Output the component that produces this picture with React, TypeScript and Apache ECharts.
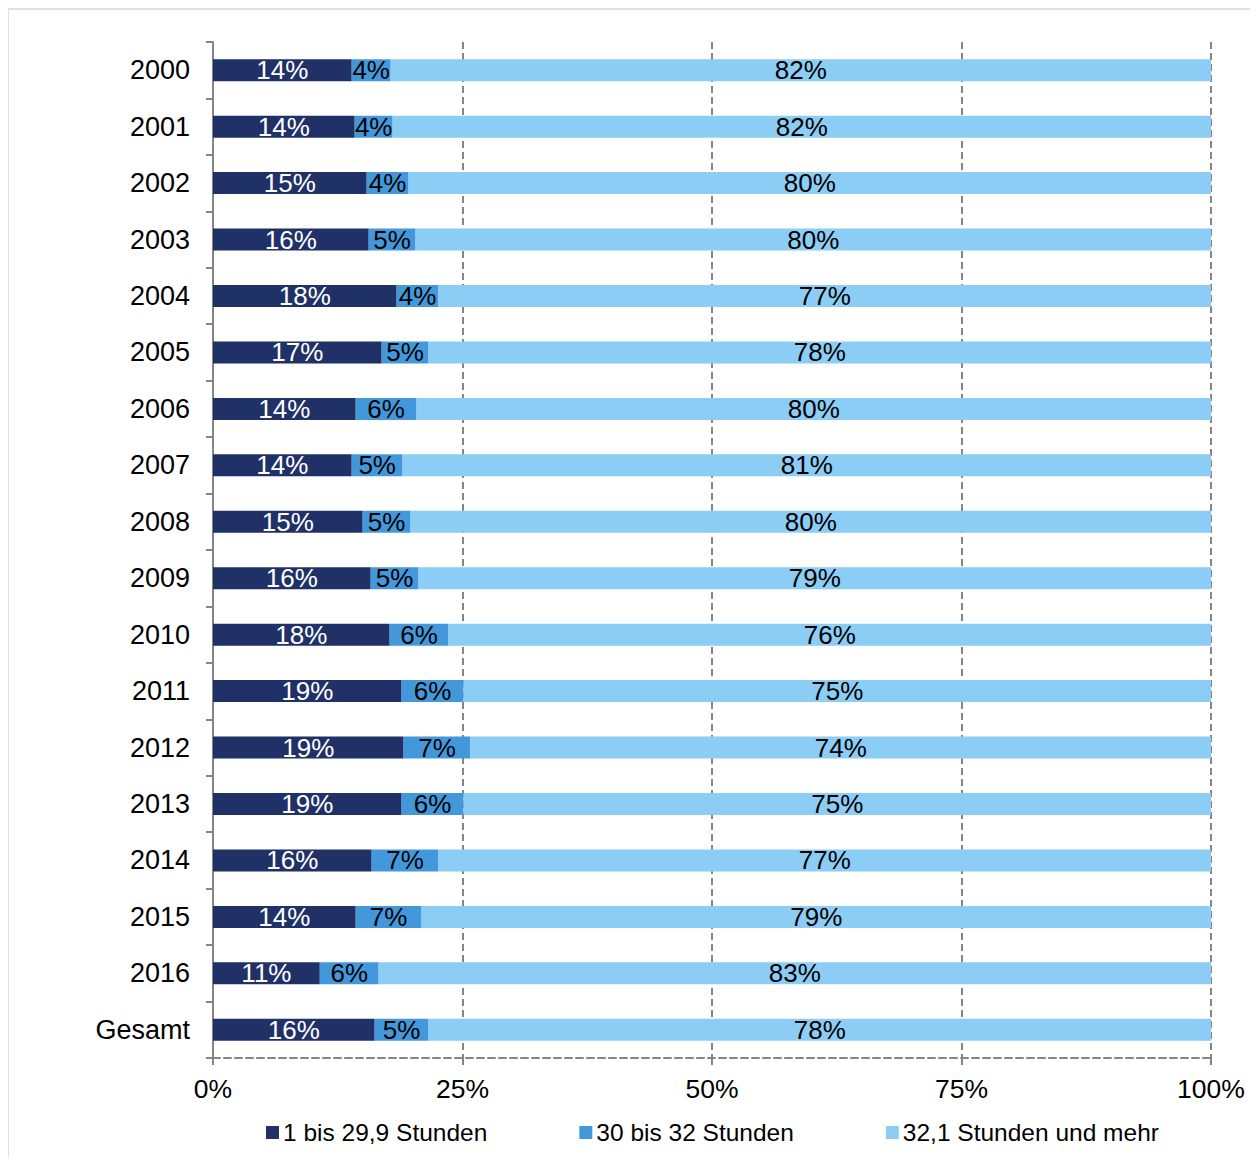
import React, { useEffect, useRef } from "react";
import * as echarts from "echarts";

const categories = [
  "2000", "2001", "2002", "2003", "2004", "2005", "2006", "2007", "2008",
  "2009", "2010", "2011", "2012", "2013", "2014", "2015", "2016", "Gesamt",
];

const seriesNames = ["1 bis 29,9 Stunden", "30 bis 32 Stunden", "32,1 Stunden und mehr"];

const shortHours = [13.9, 14.2, 15.4, 15.6, 18.4, 16.9, 14.3, 13.9, 15.0, 15.8, 17.7, 18.9, 19.1, 18.9, 15.9, 14.3, 10.7, 16.2];
const midHours = [3.9, 3.8, 4.2, 4.7, 4.2, 4.7, 6.1, 5.1, 4.8, 4.8, 5.9, 6.2, 6.7, 6.2, 6.7, 6.6, 5.9, 5.4];
const longHours = [82.2, 82.0, 80.4, 79.7, 77.4, 78.4, 79.6, 81.0, 80.2, 79.4, 76.4, 74.9, 74.2, 74.9, 77.4, 79.1, 83.4, 78.4];

const xTicks = [0, 25, 50, 75, 100];

const colors = ["#1F3167", "#4398DB", "#8CCDF5"];
const FONT = "'Liberation Sans', Arial, Helvetica, sans-serif";

export default function App() {
  const ref = useRef<HTMLDivElement>(null);

  useEffect(() => {
    if (!ref.current) return;
    const chart = echarts.init(ref.current, null, { renderer: "svg" });
    const values = [shortHours, midHours, longHours];
    const labelColors = ["#ffffff", "#000000", "#000000"];
    chart.setOption({
      animation: false,
      textStyle: { fontFamily: FONT },
      grid: { left: 205, right: 39, top: 34, bottom: 99, containLabel: false },
      legend: {
        left: 253,
        top: 1107,
        itemWidth: 13,
        itemHeight: 13,
        itemGap: 92,
        icon: "rect",
        data: seriesNames,
        textStyle: { fontSize: 24.5, color: "#000", fontFamily: FONT, padding: [0, 0, 0, -1] },
      },
      xAxis: {
        type: "value",
        min: xTicks[0],
        max: xTicks[xTicks.length - 1],
        interval: 25,
        axisLine: { show: true, lineStyle: { color: "#858585", width: 2, type: [7, 4] } },
        axisTick: { show: true, length: 7, lineStyle: { color: "#858585", width: 2 } },
        splitLine: { show: true, lineStyle: { color: "#858585", width: 2, type: [7, 4] } },
        axisLabel: {
          formatter: (v: number) => v + "%",
          fontSize: 26.5,
          color: "#000",
          margin: 17,
          fontFamily: FONT,
        },
      },
      yAxis: {
        type: "category",
        inverse: true,
        data: categories,
        axisLine: { show: true, lineStyle: { color: "#858585", width: 2 } },
        axisTick: { show: true, length: 7, interval: 0, lineStyle: { color: "#858585", width: 2 } },
        axisLabel: { fontSize: 27, color: "#000", margin: 23, fontFamily: FONT },
        splitLine: { show: false },
      },
      series: seriesNames.map((name, i) => ({
        name,
        type: "bar",
        stack: "total",
        barWidth: 22,
        data: values[i],
        itemStyle: { color: colors[i] },
        label: {
          show: true,
          position: "inside",
          formatter: (p: any) => Math.round(p.value) + "%",
          color: labelColors[i],
          fontSize: 26,
          fontFamily: FONT,
        },
      })),
    });
    return () => chart.dispose();
  }, []);

  return (
    <div
      style={{
        position: "relative",
        width: 1243,
        height: 1149,
        marginLeft: -1,
        borderLeft: "2px solid #e0e0e0",
        borderTop: "2px solid #e0e0e0",
        boxSizing: "border-box",
      }}
    >
      <div
        ref={ref}
        style={{ position: "absolute", left: -1, top: -2, width: 1242, height: 1149 }}
      />
    </div>
  );
}
